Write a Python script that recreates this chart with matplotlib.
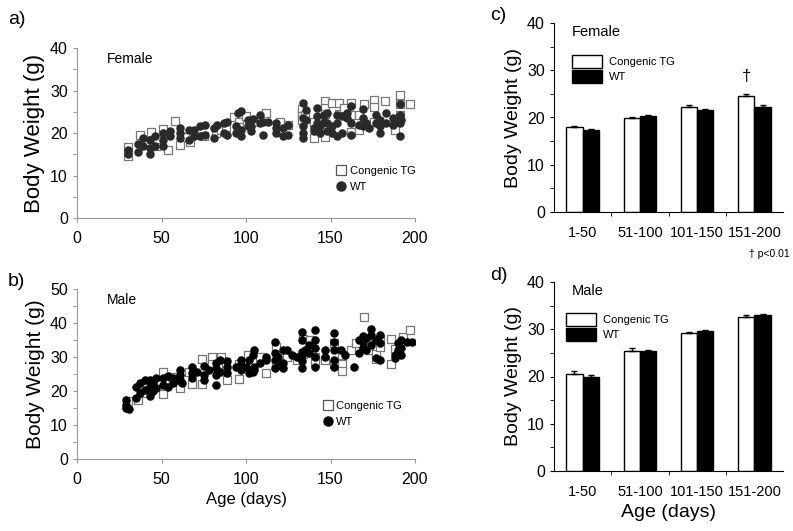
import numpy as np
import matplotlib
matplotlib.use("Agg")
import matplotlib.pyplot as plt
from matplotlib.patches import Patch
from matplotlib.lines import Line2D

plt.rcParams['font.family'] = ['Liberation Sans', 'DejaVu Sans']

# ---- scatter data, female (a) ----
fem_wt_age = [30, 30, 36, 36, 39, 39, 43, 43, 43, 46, 46, 51, 51, 51, 55, 55, 61, 61, 61, 66, 66,
              69, 69, 73, 73, 76, 76, 81, 81, 83, 87, 87, 89, 89, 94, 94, 95, 97, 97, 97, 101, 101,
              103, 103, 104, 108, 108, 110, 110, 113, 118, 118, 118, 122, 122, 125, 125,
              134, 134, 134, 134, 134, 135.5, 135.5, 140, 140, 142, 142, 142, 144, 144, 146, 146,
              148, 148, 148, 151, 151, 154, 154, 154, 157, 157, 160, 160, 162, 162, 162, 167,
              169, 169, 169, 171, 173, 177, 177, 179, 179, 179, 183, 183, 187, 187, 189,
              191, 191, 191, 191, 192]
fem_wt_bw = [16, 15, 15.5, 17.5, 18.8, 16.9, 15.1, 18.4, 16.5, 19.2, 16.9, 20, 16.9, 18.4, 19.2, 20.4,
             21.2, 18.8, 20, 20.6, 18.4, 20.8, 19.2, 21.7, 19.2, 22, 19.6, 21.2, 18.8, 22, 22.4, 20,
             22.7, 19.6, 20, 21.6, 24.7, 25.1, 19.2, 20.8, 23.1, 21.6, 20.4, 21.6, 23.3, 24.2, 22.4,
             19.6, 22.7, 22.7, 22.4, 21.2, 20, 21.2, 19.2, 22, 19.6,
             27.1, 23.5, 21.6, 20, 18.8, 25.5, 23.1, 21.2, 20.4, 25.9, 23.9, 22.4, 21.6, 20, 24.3, 22.7,
             24.7, 22.4, 20.4, 21.6, 20, 19.4, 22.4, 24.3, 23.9, 20, 23.5, 24.7, 22.4, 19.6, 26.3, 22,
             25.6, 21.6, 23.5, 22.4, 21.2, 24.3, 22.4, 21.6, 20, 23.1, 24.7, 22.4, 23.5, 22, 22.7,
             26.9, 24.3, 22.4, 19.2, 23.1]
fem_tg_age = [30, 30, 37, 44, 47, 47, 51, 54, 58, 61, 64, 67, 75, 82, 85, 88, 93, 96, 96, 100, 104,
              112, 120, 125, 133, 133, 133, 135, 140, 140, 147, 147, 147, 147, 151, 155, 155, 158,
              162, 162, 162, 167, 167, 170, 176, 176, 176, 182, 188, 191, 191, 191, 197]
fem_tg_bw = [14.5, 16.8, 19.5, 20.3, 17, 18.5, 21, 16.1, 22.8, 17.1, 19, 18, 19.3, 20, 20.8, 21.5,
             23.8, 22.5, 21.5, 24, 22.5, 24.8, 22.5, 22, 25.6, 24, 23, 24.3, 18.8, 22.5, 27.5, 26,
             19.1, 24.5, 27, 27, 24.5, 26, 27, 24.3, 20.3, 24.3, 20.6, 26.8, 27.8, 26.1, 22.5, 27.5,
             20.6, 29, 24.3, 26.8, 26.8]

# ---- scatter data, male (b) ----
male_wt_age = [29, 29, 29, 31, 35, 35, 37, 37, 40, 40, 43, 43, 43, 45, 45, 47, 47, 51, 51, 54, 54,
               57, 57, 61, 61, 61, 62, 68, 68, 68, 71, 75, 75, 75, 78, 82, 82, 82, 82, 84.5, 84.5,
               89, 89, 89, 94, 97, 97, 97, 100, 102, 102, 104, 104, 105, 105, 105, 108, 112, 112,
               117, 117, 117, 117, 119, 119, 122, 122, 122, 124, 127, 130,
               133, 133, 133, 133, 133, 133, 135, 137, 137, 141, 141, 141, 141, 141, 147, 147,
               152, 152, 152, 152, 152, 156, 158.5, 164, 167, 167, 169, 169, 169, 171, 171,
               174, 174, 174, 177, 177, 179, 179, 179, 188, 188, 190, 190, 192, 192, 192, 195, 198]
male_wt_bw = [17.4, 16, 15, 14.7, 21.3, 17.9, 19.4, 22.3, 23.3, 20.4, 21.3, 18.4, 23.3, 22.3, 19.9,
              23.8, 20.8, 21.8, 23.8, 24.5, 21.3, 23.8, 22.3, 26.2, 23.3, 24.8, 22.3, 27.2, 25.2, 23.8,
              25.7, 27.4, 24.8, 23.3, 26.2, 28.2, 24.8, 21.8, 26.7, 25.7, 29.2, 28.7, 27.2, 25.2,
              27.2, 29.2, 27.7, 26.2, 27.2, 25.2, 29.2, 25.7, 30.6, 26.2, 27.2, 32.1, 28.2, 29.2, 30.1,
              34.5, 31.1, 29.2, 26.7, 30.1, 27.7, 26.7, 28.2, 32.1, 32.1, 30.6, 30.1,
              37.5, 35, 31.6, 28.7, 26.7, 30.6, 32.1, 33.6, 31.1, 38, 35, 32.6, 30.1, 27.2, 32.1, 30.1,
              37, 34.5, 32.1, 27.2, 29.2, 32.1, 30.6, 27.2, 35, 31.1, 36.2, 32.6, 34.5, 35.5, 32.1,
              38.2, 36.5, 33.6, 35, 29.6, 36.5, 34.1, 29.2, 30.6, 29.6, 34.1, 32.1, 35, 32.6, 30.6,
              34.5, 34.5]
male_tg_age = [30, 36, 40, 40, 44, 51, 51, 56, 61, 66, 68, 74, 74, 80, 80, 85, 88, 89, 96, 96, 101,
               108, 112, 118, 118, 124, 130, 134, 134, 138, 141, 141, 147, 152, 152, 157, 157, 157,
               162, 165, 170, 173, 173, 177, 177, 179, 179, 186, 186, 188, 193, 197]
male_tg_bw = [17, 17.5, 21, 19.5, 23, 25.5, 19.2, 24, 21, 25.5, 22, 29.5, 22.2, 30, 28, 30, 27, 23.2,
              23.5, 28, 30.5, 30, 25.2, 32.8, 28, 30, 29, 35.2, 31, 35, 30, 28.5, 29, 34, 28, 28, 26,
              30.5, 32.2, 34, 41.7, 33.8, 32, 29.5, 31, 33, 35, 35.2, 28, 32.5, 36, 38]

# ---- bar data ----
age_groups = ['1-50', '51-100', '101-150', '151-200']
fem_tg_mean = [17.9, 19.9, 22.3, 24.6]
fem_tg_err = [0.25, 0.2, 0.3, 0.4]
fem_wt_mean = [17.4, 20.3, 21.6, 22.3]
fem_wt_err = [0.25, 0.25, 0.2, 0.25]
male_tg_mean = [20.5, 25.5, 29.2, 32.6]
male_tg_err = [0.6, 0.5, 0.3, 0.5]
male_wt_mean = [20.0, 25.4, 29.6, 33.0]
male_wt_err = [0.4, 0.3, 0.3, 0.3]

W, H = 793, 531
fig = plt.figure(figsize=(W / 100, H / 100), dpi=100)


def rect(l, t, r, b):
    return [l / W, 1 - b / H, (r - l) / W, (b - t) / H]


def scatter_panel(ax, wt_age, wt_bw, tg_age, tg_bw, ymax, wt_color, label, leg_xy, ylab_size):
    ax.scatter(tg_age, tg_bw, marker='s', s=30, facecolor='white', edgecolor='#777777',
               linewidth=0.9, zorder=2)
    ax.scatter(wt_age, wt_bw, marker='o', s=26, color=wt_color, edgecolor=wt_color, zorder=3)
    ax.set_xlim(0, 200)
    ax.set_ylim(0, ymax)
    ax.set_xticks([0, 50, 100, 150, 200])
    ax.set_yticks(np.arange(0, ymax + 1, 10))
    ax.set_yticks(np.arange(5, ymax, 10), minor=True)
    for s in ['top', 'right']:
        ax.spines[s].set_visible(False)
    for s in ['left', 'bottom']:
        ax.spines[s].set_color('#999999')
        ax.spines[s].set_linewidth(0.8)
    ax.tick_params(axis='both', which='both', colors='#999999', labelcolor='black',
                   labelsize=11.5, length=3)
    ax.tick_params(axis='x', pad=6)
    ax.set_ylabel('Body Weight (g)', fontsize=ylab_size)
    ax.text(17.5, ymax * 0.935, label, fontsize=10, va='center')
    handles = [Line2D([], [], marker='s', ls='none', ms=7, mfc='white', mec='#555555', mew=0.9),
               Line2D([], [], marker='o', ls='none', ms=6.5, mfc=wt_color, mec=wt_color)]
    ax.legend(handles, ['Congenic TG', 'WT'], loc='center left', bbox_to_anchor=leg_xy,
              frameon=False, fontsize=8, handletextpad=0.2, labelspacing=0.5,
              handlelength=1.2, borderpad=0)


ax_a = fig.add_axes(rect(77, 48, 415, 218))
scatter_panel(ax_a, fem_wt_age, fem_wt_bw, fem_tg_age, fem_tg_bw, 40, '#2a2a2a', 'Female',
              (0.745, 0.23), 16)

ax_b = fig.add_axes(rect(77, 289, 415, 459))
scatter_panel(ax_b, male_wt_age, male_wt_bw, male_tg_age, male_tg_bw, 50, 'black', 'Male',
              (0.705, 0.265), 15)
ax_b.set_xlabel('Age (days)', fontsize=12)


def bar_panel(ax, tg_m, tg_e, wt_m, wt_e, label, leg_xy):
    x = np.arange(len(age_groups))
    bw = 0.285
    ax.bar(x - bw / 2, tg_m, bw, color='white', edgecolor='black', linewidth=1,
           yerr=[np.zeros(4), tg_e], error_kw=dict(ecolor='black', elinewidth=1, capsize=2))
    ax.bar(x + bw / 2, wt_m, bw, color='black', edgecolor='black', linewidth=1,
           yerr=[np.zeros(4), wt_e], error_kw=dict(ecolor='black', elinewidth=1, capsize=2))
    ax.set_xlim(-0.5, 3.5)
    ax.set_ylim(0, 40)
    ax.set_yticks([0, 10, 20, 30, 40])
    ax.set_yticks([5, 15, 25, 35], minor=True)
    ax.set_xticks(x)
    ax.set_xticklabels(age_groups, fontsize=10.5)
    ax.set_xticks([0.5, 1.5, 2.5], minor=True)
    ax.tick_params(axis='x', which='major', length=0, pad=10)
    ax.tick_params(axis='x', which='minor', length=3)
    ax.tick_params(axis='y', which='both', length=3, labelsize=11.5)
    for s in ['top', 'right']:
        ax.spines[s].set_visible(False)
    ax.set_ylabel('Body Weight (g)', fontsize=14)
    ax.text(0.079, 0.955, label, transform=ax.transAxes, fontsize=10.5, va='center')
    handles = [Patch(facecolor='white', edgecolor='black', linewidth=1),
               Patch(facecolor='black', edgecolor='black', linewidth=1)]
    ax.legend(handles, ['Congenic TG', 'WT'], loc='center left', bbox_to_anchor=leg_xy,
              frameon=False, fontsize=8, handlelength=2.7, handleheight=1.45,
              handletextpad=0.6, labelspacing=0.15, borderpad=0, borderaxespad=0)


ax_c = fig.add_axes(rect(554, 23, 783, 212))
bar_panel(ax_c, fem_tg_mean, fem_tg_err, fem_wt_mean, fem_wt_err, 'Female', (0.079, 0.757))
ax_c.text(3 - 0.14, 28.7, '\u2020', ha='center', va='center', fontsize=12)
ax_c.text(3.27, -8.8, '\u2020 p<0.01', ha='center', va='center', fontsize=7.5)

ax_d = fig.add_axes(rect(554, 282, 783, 471))
bar_panel(ax_d, male_tg_mean, male_tg_err, male_wt_mean, male_wt_err, 'Male', (0.052, 0.762))
ax_d.set_xlabel('Age (days)', fontsize=14)

fig.text(8 / W, 1 - 20 / H, 'a)', fontsize=14, va='center')
fig.text(8 / W, 1 - 282 / H, 'b)', fontsize=14, va='center')
fig.text(490 / W, 1 - 15 / H, 'c)', fontsize=14, va='center')
fig.text(490 / W, 1 - 276 / H, 'd)', fontsize=14, va='center')

fig.savefig('out.png', dpi=100)
